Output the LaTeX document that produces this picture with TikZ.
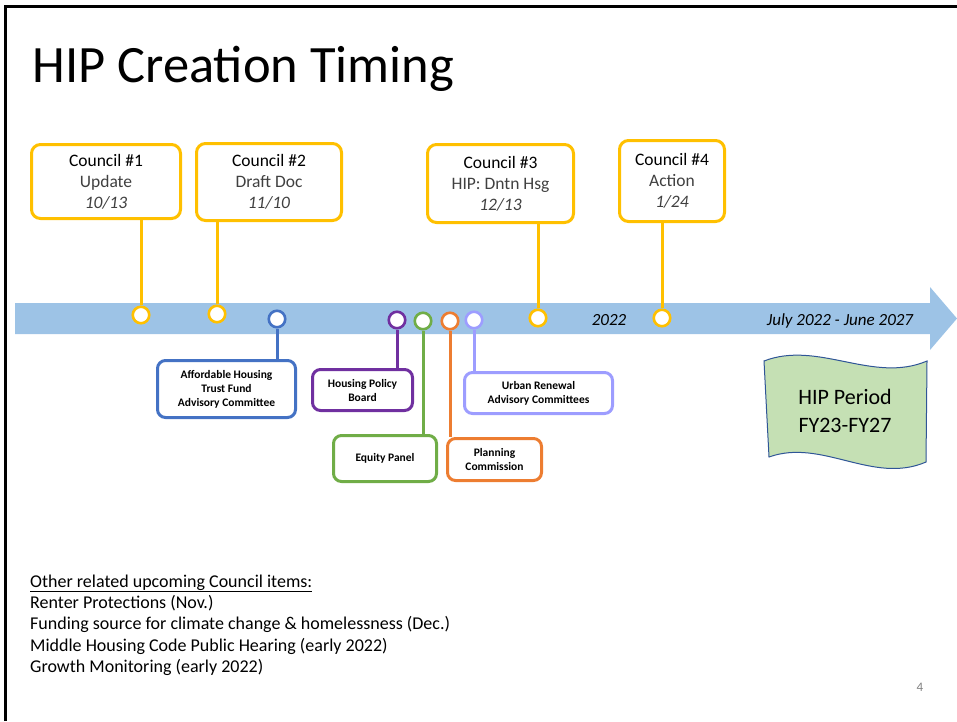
\documentclass[tikz,border=0pt]{standalone}
\usepackage{fontspec}
\setmainfont{Carlito}
\definecolor{hipgold}{HTML}{FFC000}
\definecolor{hipblue}{HTML}{4472C4}
\definecolor{hippurple}{HTML}{7030A0}
\definecolor{hipgreen}{HTML}{70AD47}
\definecolor{hiporange}{HTML}{ED7D31}
\definecolor{hiplav}{HTML}{9D9DFF}
\definecolor{hipband}{HTML}{9DC3E6}
\definecolor{hipleaf}{HTML}{C5E0B4}
\definecolor{hipedge}{HTML}{2F5597}
\definecolor{hipgray}{HTML}{404040}
\tikzset{
  council/.style={draw=hipgold, line width=3pt, fill=white, rounded corners=9pt,
    align=center, inner sep=0pt, text=hipgray, font=\fontsize{17.5}{21}\selectfont},
  member/.style={draw=#1, line width=3pt, fill=white, rounded corners=8pt,
    align=center, inner sep=0pt, font=\fontsize{11.5}{14}\selectfont\bfseries},
  tldot/.style={circle, draw=#1, line width=2.6pt, fill=white, minimum size=16.5pt, inner sep=0pt},
  stem/.style={draw=#1, line width=3pt},
}
\begin{document}
\begin{tikzpicture}[x=1pt, y=-1pt]
  \useasboundingbox (0,0) rectangle (957,721);
  \draw[line width=3pt] (5,721) -- (5,6) -- (957,6);

  \node[anchor=base west, font=\fontsize{52.5}{60}\selectfont] (title) at (29,82) {HIP Creation Timing};

  % ===== timeline =====
  \fill[hipband] (15,303) -- (930,303) -- (930,287) -- (957,318.5) -- (930,350) -- (930,334) -- (15,334) -- cycle;
  \node[anchor=base, font=\fontsize{17}{20}\selectfont\itshape] (yr) at (609,325) {2022};
  \node[anchor=base, font=\fontsize{17}{20}\selectfont\itshape] (span) at (840,325) {July 2022 - June 2027};

  % ===== council meetings =====
  \node[council, minimum width=149pt, minimum height=74pt] (c1box) at (106,181.5)
    {\textcolor{black}{Council \#1}\\Update\\\textit{10/13}};
  \node[council, minimum width=145pt, minimum height=77pt] (c2box) at (269,182)
    {\textcolor{black}{Council \#2}\\Draft Doc\\\textit{11/10}};
  \node[council, minimum width=146pt, minimum height=78pt] (c3box) at (500.5,183.5)
    {\textcolor{black}{Council \#3}\\HIP: Dntn Hsg\\\textit{12/13}};
  \node[council, minimum width=105pt, minimum height=81pt] (c4box) at (672,181)
    {\textcolor{black}{Council \#4}\\Action\\\textit{1/24}};

  \node[tldot=hipgold] (c1dot) at (141,315) {};
  \node[tldot=hipgold] (c2dot) at (217,314) {};
  \node[tldot=hipgold] (c3dot) at (538,318) {};
  \node[tldot=hipgold] (c4dot) at (662,318) {};
  \draw[stem=hipgold] (c1dot.north) -- (c1dot.north |- c1box.south);
  \draw[stem=hipgold] (c2dot.north) -- (c2dot.north |- c2box.south);
  \draw[stem=hipgold] (c3dot.north) -- (c3dot.north |- c3box.south);
  \draw[stem=hipgold] (c4dot.north) -- (c4dot.north |- c4box.south);

  % ===== advisory bodies =====
  \node[member=hipblue, minimum width=138pt, minimum height=57pt] (ahbox) at (226.5,389)
    {Affordable Housing\\Trust Fund\\Advisory Committee};
  \node[member=hippurple, minimum width=100pt, minimum height=41pt] (hpbox) at (362.5,390)
    {Housing Policy\\Board};
  \node[member=hipgreen, minimum width=103pt, minimum height=46pt] (epbox) at (385,458.5)
    {Equity Panel};
  \node[member=hiporange, minimum width=94pt, minimum height=42pt] (pcbox) at (494.5,459.5)
    {Planning\\Commission};
  \node[member=hiplav, minimum width=148pt, minimum height=41pt] (urbox) at (538.5,393)
    {Urban Renewal\\Advisory Committees};

  \node[tldot=hipblue] (ahdot) at (277,319) {};
  \node[tldot=hippurple] (hpdot) at (397,320) {};
  \node[tldot=hipgreen] (epdot) at (423,321) {};
  \node[tldot=hiporange] (pcdot) at (450,321) {};
  \node[tldot=hiplav] (urdot) at (474,320) {};
  \draw[stem=hipblue] (ahdot.south) -- (ahdot.south |- ahbox.north);
  \draw[stem=hippurple] (hpdot.south) -- (hpdot.south |- hpbox.north);
  \draw[stem=hipgreen] (epdot.south) -- (epdot.south |- epbox.north);
  \draw[stem=hiporange] (pcdot.south) -- (pcdot.south |- pcbox.north);
  \draw[stem=hiplav] (urdot.south) -- (urdot.south |- urbox.north);

  % ===== plan period =====
  \filldraw[fill=hipleaf, draw=hipedge, line width=1pt]
    (764,361) .. controls (818,340) and (873,384) .. (927,361)
    -- (926,462) .. controls (873,485) and (822,438) .. (769,457) -- cycle;
  \node[align=center, font=\fontsize{22}{28.5}\selectfont] (period) at (845,411) {HIP Period\\FY23-FY27};

  % ===== other items =====
  \node[anchor=base west, font=\fontsize{18}{21}\selectfont, inner sep=0pt] (note0) at (30,587) {\underline{Other related upcoming Council items:}};
  \node[anchor=base west, font=\fontsize{18}{21}\selectfont, inner sep=0pt] (note1) at (30,608) {Renter Protections (Nov.)};
  \node[anchor=base west, font=\fontsize{18}{21}\selectfont, inner sep=0pt] (note2) at (30,629.5) {Funding source for climate change \& homelessness (Dec.)};
  \node[anchor=base west, font=\fontsize{18}{21}\selectfont, inner sep=0pt] (note3) at (30,651) {Middle Housing Code Public Hearing (early 2022)};
  \node[anchor=base west, font=\fontsize{18}{21}\selectfont, inner sep=0pt] (note4) at (30,672) {Growth Monitoring (early 2022)};

  \node[text=gray, font=\fontsize{13}{15}\selectfont] (pagenum) at (920,687) {4};
\end{tikzpicture}
\end{document}
